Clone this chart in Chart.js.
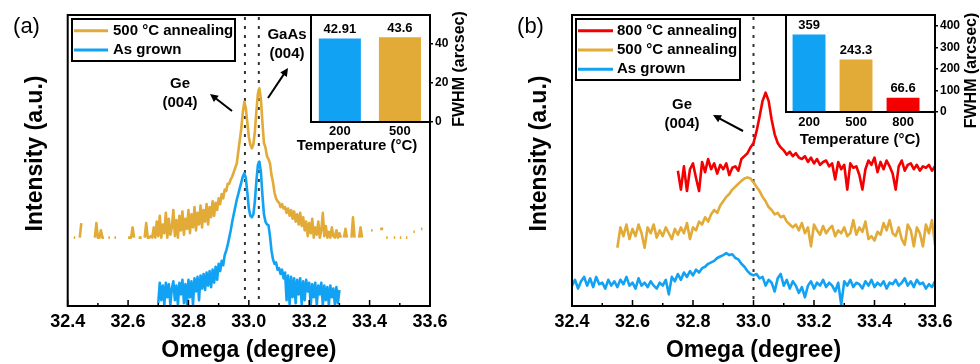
<!DOCTYPE html>
<html>
<head>
<meta charset="utf-8">
<script src="https://cdn.jsdelivr.net/npm/chart.js@4.4.0/dist/chart.umd.min.js"></script>
<style>
  body { margin: 0; background: #fff; }
  #wrap { position: relative; width: 980px; height: 364px; overflow: hidden; }
  canvas { position: absolute; top: 0; }
</style>
</head>
<body>
<div id="wrap">
  <canvas id="mainA" width="490" height="364" style="left:0"></canvas>
  <canvas id="mainB" width="490" height="364" style="left:490px"></canvas>
  <canvas id="insetA" width="210" height="165" style="left:280px"></canvas>
  <canvas id="insetB" width="210" height="150" style="left:770px"></canvas>
</div>
<script>
const N = null;

// (a) omega scans, 0.005 deg per point
const stepA = 0.005;
const goldAStart = 32.42;
const goldA = [
  23.5, 23.5, N, N, 23.5, 28.5, N, N, N, N,
  N, N, N, N, 23.5, 28.5, 23.5, 23.5, 26, 23.5,
  23.5, N, N, 23.5, 23.5, N, N, 23.5, 23.5, N,
  N, N, N, N, N, N, 23.5, 23.5, 23.5, 27,
  23.5, N, N, 23.5, 23.5, 23.5, N, 23.5, 28.5, 23.5,
  23.5, 24, 23.5, 27, 23.5, 29, 24, 31, 23.5, 28,
  25, 32, 23.5, 30, 24.5, 27, 33, 24, 29.5, 23.5,
  31, 26, 32.5, 24.5, 30, 26.5, 33, 25, 31.5, 27,
  34, 26, 32, 28, 34.5, 27, 33, 29, 35, 28,
  34, 30.5, 36, 31, 35.5, 33, 37, 35, 38.5, 37,
  40, 39.5, 42, 42, 43.5, 44.5, 46, 47.5, 49, 53,
  57, 61, 66.5, 70.2, 68, 63, 58, 55.5, 54.2, 55.5,
  60, 67, 73, 74.8, 71, 63, 56, 54.5, 51.5, 50.5,
  49, 45, 42.5, 39, 37, 36, 35.5, 34, 35, 33.5,
  34, 32, 33.5, 31, 33, 30, 32.5, 29, 31.5, 28,
  32, 27.5, 30.5, 26, 29, 24, 28.5, 25, 30, 23.5,
  27, 24.5, 29, 23.5, 26, 32, 24, 27.5, 23.5, 25.5,
  23.5, 27, 24, 23.5, 26, 23.5, 25, 23.5, N, 23.5,
  26.5, 23.5, N, N, 23.5, 30.5, 23.5, N, N, 23.5,
  27, 23.5, N, N, N, N, N, 26, 26, N,
  N, N, N, 26.5, 26.5, 26.5, N, 23.5, 23.5, N,
  N, N, 23.5, 23.5, N, N, 23.5, 23.5, N, N,
  23.5, 23.5, N, N, N, 25.5, 25.5, N, N, N,
  26.5, 26.5
];
const blueAStart = 32.70;
const blueA = [
  1, 8, 2, 7, 0.5, 8, 3, 7.5, 0.5, 6,
  8.5, 2, 7, 0.5, 8, 4, 9, 1, 7.5, 0.5,
  9, 3, 8.5, 0.5, 9.5, 5, 10, 2, 10.5, 6,
  11, 5.5, 11.5, 7, 12, 6.5, 12.5, 8, 13.5, 9,
  14.5, 12, 15.5, 14, 17.5, 19, 21, 23.5, 26, 29,
  31.5, 34, 36.5, 38.5, 40.5, 42.5, 44.5, 45.6, 44, 39,
  33.5, 31, 30.5, 31.5, 36, 43, 48.5, 49.6, 46, 38,
  31.5, 29, 28, 27.8, 24, 19, 16, 14.5, 15, 12.5,
  13, 11, 12.5, 9.5, 11.5, 2, 10.5, 0.5, 10, 3,
  9.5, 1, 9, 4, 9.5, 0.5, 8.5, 2, 9, 5,
  8, 0.5, 7.5, 3, 8, 0.5, 7, 4, 8, 0.5,
  7, 2, 6.5, 0.5, 7, 3, 6, 0.5, 6.5, 1,
  5.5
];

// (b) omega scans, 0.01 deg per point
const stepB = 0.01;
const redBStart = 32.75;
const redB = [
  46.5, 40, 48, 39.5, 47, 49, 44, 39.5, 49.5, 46,
  50.5, 47, 49, 45.5, 48.5, 47, 49, 45, 47.5, 48,
  46.5, 50.5, 51.5, 52.5, 54.5, 56, 60, 65, 70.5, 73.3,
  70.5, 64, 59, 56, 54.5, 53.5, 52, 53, 51.5, 52.5,
  51, 50.5, 51.5, 49.5, 51, 49, 50.5, 48.5, 49.5, 50,
  48, 49, 43.5, 49.5, 47, 48.5, 40, 49, 47.5, 48,
  45, 40, 47, 50, 48.5, 51, 46, 49.5, 47, 50,
  48, 45.5, 40, 48, 50, 46.5, 48.5, 49, 47, 48.5,
  46.5, 48, 47.5, 48.5, 46.5, 48
];
const goldBStart = 32.55;
const goldB = [
  20, 27, 24, 28, 23, 26.5, 24, 28, 25, 20,
  27, 25, 28, 23.5, 26, 24, 27, 25, 23, 26.5,
  24.5, 27, 25, 28.5, 23, 27, 26, 29, 28, 30.5,
  29, 31.5, 33, 32, 34.5, 36, 37.5, 38.5, 40, 41,
  42, 43, 43.8, 44.2, 43.8, 42.5, 41, 39.5, 37.5, 36,
  34, 33, 31.5, 32, 30.5, 31, 29, 28, 27, 28,
  26, 28.5, 25, 27, 20.5, 28, 26, 24.5, 27.5, 25,
  26.5, 27.5, 24, 26, 25, 27, 24, 25, 29.5, 24.5,
  27, 25.5, 29, 23, 24, 22.5, 25.5, 24.5, 28.5, 26,
  29.5, 25, 24, 27, 23, 21, 28, 26, 20.5, 27,
  25, 20.5, 28, 25, 29.5, 21
];
const blueBStart = 32.40;
const blueB = [
  7, 9, 6, 8.5, 10, 7, 9.5, 6.5, 10, 7.5,
  8, 6, 9, 7, 8.5, 6.5, 9, 7.5, 10, 7,
  8, 6, 9.5, 7, 8, 6.5, 8.5, 7, 6, 8,
  7, 9, 4, 10, 8.5, 11, 9, 11.5, 10, 12,
  10.5, 12.5, 11.5, 13, 13.5, 14.5, 15, 15.5, 16.5, 17,
  17.5, 18.2, 17.5, 17.8, 16.5, 16, 14.5, 13.5, 12, 11,
  10.5, 11, 9.5, 10, 7, 9, 8, 5, 9.5, 11,
  7, 9, 6, 8.5, 7, 4.5, 6.5, 3, 7, 8.5,
  6, 8, 7, 9, 6.5, 8, 7, 5, 8, 0.5,
  8.5, 7, 9, 6.5, 8, 7.5, 6, 8.5, 7, 9,
  6.5, 8, 7, 8.5, 6, 8, 7.5, 9, 7, 8,
  9.5, 7, 8.5, 6.5, 9, 7.5, 8, 6, 7.5, 6.5,
  8.5
];

const refLinesA = [32.987, 33.033];
const refLinesB = [33.0];

// insets: FWHM vs temperature
const tempA = ['200', '500'];
const fwhmA = [42.91, 43.6];
const tempB = ['200', '500', '800'];
const fwhmB = [359, 243.3, 66.6];

const BLUE = '#12a2f4';
const GOLD = '#e2aa36';
const RED = '#f40000';
const FONT = 'Arial, "Liberation Sans", sans-serif';

Chart.defaults.font.family = FONT;
Chart.defaults.color = '#000';

function scan(start, step, ys) {
  return ys.map((y, i) => ({ x: +(start + i * step).toFixed(3), y: y }));
}

const decor = {
  id: 'decor',
  beforeDatasetsDraw(chart, args, o) {
    const { ctx, chartArea: a, scales } = chart;
    ctx.save();
    if (o.fillArea) {
      ctx.fillStyle = '#fff';
      ctx.fillRect(a.left, a.top, a.width, a.height);
    }
    (o.refLines || []).forEach(v => {
      const px = scales.x.getPixelForValue(v);
      ctx.strokeStyle = '#333';
      ctx.lineWidth = 2;
      ctx.setLineDash([3, 6]);
      ctx.beginPath();
      ctx.moveTo(px, a.top + 2);
      ctx.lineTo(px, a.bottom);
      ctx.stroke();
    });
    ctx.restore();
  },
  afterDraw(chart, args, o) {
    const { ctx, chartArea: a, scales } = chart;
    ctx.save();
    ctx.fillStyle = '#000';
    ctx.strokeStyle = '#000';

    // inward ticks on the bottom axis
    if (o.innerTicks) {
      const t = scales.x.ticks.map(k => k.value);
      ctx.lineWidth = 1.5;
      ctx.beginPath();
      t.forEach((v, i) => {
        const px = scales.x.getPixelForValue(v);
        ctx.moveTo(px, a.bottom); ctx.lineTo(px, a.bottom - 6);
        if (i < t.length - 1) {
          const pm = scales.x.getPixelForValue((v + t[i + 1]) / 2);
          ctx.moveTo(pm, a.bottom); ctx.lineTo(pm, a.bottom - 3);
        }
      });
      ctx.stroke();
    }

    // bar value labels
    if (o.barLabels) {
      const meta = chart.getDatasetMeta(0);
      ctx.font = 'bold 13px ' + FONT;
      ctx.textAlign = 'center';
      ctx.textBaseline = 'middle';
      meta.data.forEach((el, i) => {
        ctx.fillText(String(chart.data.datasets[0].data[i].y), el.x, el.y - 9);
      });
    }

    // frame
    ctx.lineWidth = 2;
    ctx.strokeRect(a.left, a.top, a.width, a.height);

    // legend box
    if (o.legend) {
      const L = o.legend;
      ctx.lineWidth = 2;
      ctx.strokeRect(L.x, L.y, L.w, L.h);
      ctx.font = 'bold 15px ' + FONT;
      ctx.textAlign = 'left';
      ctx.textBaseline = 'middle';
      chart.data.datasets.forEach((ds, i) => {
        const y = L.rows[i];
        ctx.strokeStyle = ds.borderColor;
        ctx.lineWidth = 3;
        ctx.beginPath(); ctx.moveTo(L.x1, y); ctx.lineTo(L.x2, y); ctx.stroke();
        ctx.fillText(ds.label, L.tx, y);
      });
      ctx.strokeStyle = '#000';
    }

    // arrows
    (o.arrows || []).forEach(([x1, y1, x2, y2]) => {
      const ang = Math.atan2(y2 - y1, x2 - x1);
      ctx.lineWidth = 2;
      ctx.beginPath(); ctx.moveTo(x1, y1);
      ctx.lineTo(x2 - 5 * Math.cos(ang), y2 - 5 * Math.sin(ang)); ctx.stroke();
      ctx.beginPath();
      ctx.moveTo(x2, y2);
      ctx.lineTo(x2 - 8 * Math.cos(ang) + 4 * Math.sin(ang), y2 - 8 * Math.sin(ang) - 4 * Math.cos(ang));
      ctx.lineTo(x2 - 8 * Math.cos(ang) - 4 * Math.sin(ang), y2 - 8 * Math.sin(ang) + 4 * Math.cos(ang));
      ctx.closePath(); ctx.fill();
    });

    // free texts
    (o.texts || []).forEach(t => {
      ctx.save();
      ctx.font = (t.weight || 'bold') + ' ' + t.size + 'px ' + FONT;
      ctx.textAlign = 'center';
      ctx.textBaseline = 'middle';
      ctx.translate(t.x, t.y);
      if (t.rot) ctx.rotate(t.rot);
      ctx.fillText(t.text, 0, 0);
      ctx.restore();
    });
    ctx.restore();
  }
};

function mainChart(id, datasets, pad, decorOpts) {
  return new Chart(document.getElementById(id), {
    type: 'line',
    data: { datasets: datasets },
    options: {
      responsive: false,
      animation: false,
      events: [],
      layout: { padding: { left: pad.left, right: pad.right, top: 15, bottom: 0 } },
      elements: { point: { radius: 0 }, line: { borderWidth: 2.6, tension: 0, borderJoinStyle: 'round' } },
      plugins: { legend: { display: false }, tooltip: { enabled: false }, decor: decorOpts },
      scales: {
        x: {
          type: 'linear', min: 32.4, max: 33.6,
          afterFit: s => { s.height = 58; },
          grid: { display: false, drawTicks: false },
          border: { display: false },
          ticks: {
            stepSize: 0.2, autoSkip: false, maxRotation: 0, padding: 5,
            font: { size: 18, weight: 'bold' },
            callback: v => v.toFixed(1)
          },
          title: {
            display: true, text: 'Omega (degree)',
            font: { size: 23, weight: 'bold' }, padding: { top: 0, bottom: 0 }
          }
        },
        y: { display: false, min: 0, max: 100 }
      }
    },
    plugins: [decor]
  });
}

function insetChart(id, temps, fwhm, colors, cfg, decorOpts) {
  return new Chart(document.getElementById(id), {
    type: 'bar',
    data: {
      datasets: [{
        data: fwhm.map((v, i) => ({ x: i, y: v })),
        backgroundColor: colors,
        borderWidth: 0,
        barPercentage: 0.7,
        categoryPercentage: 1
      }]
    },
    options: {
      responsive: false,
      animation: false,
      events: [],
      layout: { padding: { left: cfg.left, right: 0, top: 15, bottom: 0 } },
      plugins: { legend: { display: false }, tooltip: { enabled: false }, decor: decorOpts },
      scales: {
        x: {
          type: 'linear', min: cfg.xmin, max: cfg.xmax, offset: false,
          afterFit: s => { s.height = cfg.bottomH; },
          grid: { display: false, drawTicks: false, offset: false },
          border: { display: false },
          ticks: {
            stepSize: 1, includeBounds: false, autoSkip: false, maxRotation: 0,
            padding: cfg.xPad, font: { size: 13, weight: 'bold' },
            callback: v => temps[v]
          }
        },
        y: {
          position: 'right', min: 0, max: cfg.ymax,
          afterFit: s => { s.width = cfg.rightW; },
          grid: { display: true, drawOnChartArea: false, drawTicks: true, tickLength: 3, color: '#000', lineWidth: 1.5 },
          border: { display: false },
          ticks: { stepSize: cfg.ystep, includeBounds: false, padding: 2, font: { size: 12, weight: 'bold' } }
        }
      }
    },
    plugins: [decor]
  });
}

mainChart('mainA', [
  { label: '500 °C annealing', data: scan(goldAStart, stepA, goldA), borderColor: GOLD },
  { label: 'As grown', data: scan(blueAStart, stepA, blueA), borderColor: BLUE }
], { left: 67.7, right: 60 }, {
  refLines: refLinesA,
  innerTicks: true,
  legend: { x: 72, y: 19, w: 163, h: 42, rows: [30.7, 50], x1: 74, x2: 108, tx: 113 },
  arrows: [[232, 111, 210, 94], [268, 98, 288, 68]],
  texts: [
    { text: '(a)', x: 26.5, y: 26.5, size: 22, weight: 'normal' },
    { text: 'Ge', x: 180, y: 84, size: 15 },
    { text: '(004)', x: 180, y: 103, size: 15 },
    { text: 'GaAs', x: 287, y: 35, size: 15 },
    { text: '(004)', x: 287, y: 54, size: 15 },
    { text: 'Intensity (a.u.)', x: 35.7, y: 153.5, size: 23, rot: -Math.PI / 2 }
  ]
});

mainChart('mainB', [
  { label: '800 °C annealing', data: scan(redBStart, stepB, redB), borderColor: RED },
  { label: '500 °C annealing', data: scan(goldBStart, stepB, goldB), borderColor: GOLD },
  { label: 'As grown', data: scan(blueBStart, stepB, blueB), borderColor: BLUE }
], { left: 82, right: 45 }, {
  refLines: refLinesB,
  innerTicks: true,
  legend: { x: 86, y: 19, w: 164, h: 61, rows: [30.7, 50, 69.3], x1: 88, x2: 123, tx: 127 },
  arrows: [[253, 131, 223, 115]],
  texts: [
    { text: '(b)', x: 40.5, y: 26.5, size: 22, weight: 'normal' },
    { text: 'Ge', x: 192, y: 105, size: 15 },
    { text: '(004)', x: 192, y: 124, size: 15 },
    { text: 'Intensity (a.u.)', x: 50, y: 153.5, size: 23, rot: -Math.PI / 2 }
  ]
});

insetChart('insetA', tempA, fwhmA, [BLUE, GOLD],
  { left: 31, rightW: 60, bottomH: 43, xmin: -0.48, xmax: 1.5, ymax: 55, ystep: 20, xPad: 2 },
  {
    fillArea: true, barLabels: true,
    texts: [
      { text: 'Temperature (°C)', x: 77, y: 146, size: 15 },
      { text: 'FWHM (arcsec)', x: 180, y: 69, size: 16, rot: -Math.PI / 2 }
    ]
  });

insetChart('insetB', tempB, fwhmB, [BLUE, GOLD, RED],
  { left: 16, rightW: 45, bottomH: 38, xmin: -0.49, xmax: 2.68, ymax: 450, ystep: 100, xPad: 3 },
  {
    fillArea: true, barLabels: true,
    texts: [
      { text: 'Temperature (°C)', x: 90, y: 139.5, size: 15 },
      { text: 'FWHM (arcsec)', x: 202, y: 70.5, size: 16, rot: -Math.PI / 2 }
    ]
  });
</script>
</body>
</html>
